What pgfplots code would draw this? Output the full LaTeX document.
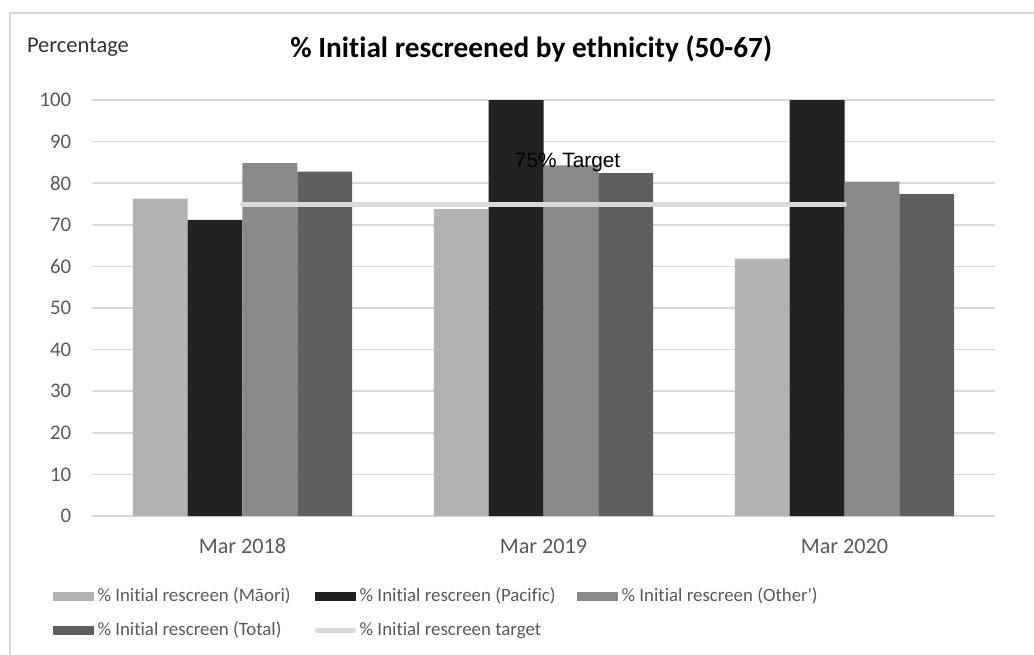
\documentclass[border=0pt]{standalone}
\usepackage{pgfplots}
\pgfplotsset{compat=1.18}
\usepackage{fontspec}
\setmainfont{Carlito}[Ligatures={NoCommon}]
\newfontfamily\arialfont{Liberation Sans}

\definecolor{maori}{HTML}{B2B2B2}
\definecolor{pacific}{HTML}{222222}
\definecolor{other}{HTML}{898989}
\definecolor{total}{HTML}{5F5F5F}
\definecolor{target}{HTML}{D9D9D9}
\definecolor{gridc}{HTML}{D9D9D9}
\definecolor{labelc}{HTML}{595959}

\begin{document}
\begin{tikzpicture}
    % page = 1034x654 px at 0.5pt per px
    \path[use as bounding box] (0,0) rectangle (517pt,-327pt);
    \draw[gridc, line width=0.75pt] (5pt,-340pt) -- (5pt,-6.5pt) -- (530pt,-6.5pt);

    \node[anchor=base west, inner sep=0pt, font=\fontsize{11.25}{13}\selectfont, text=black!80]
        at (13.3pt,-26.2pt) {Percentage};
    \node[anchor=base west, inner sep=0pt, font=\fontsize{14.65}{17}\selectfont\bfseries]
        at (145pt,-28.5pt) {\% Initial rescreened by ethnicity (50-67)};

    \begin{axis}[
        at={(46pt,-258pt)}, anchor=south west,
        scale only axis,
        width=451.5pt, height=208pt,
        ybar=0pt,
        bar width=27.4pt,
        xmin=-0.5, xmax=2.5,
        ymin=0, ymax=100,
        enlargelimits=false,
        xtick={0,1,2},
        xticklabels={Mar 2018, Mar 2019, Mar 2020},
        ytick={0,10,...,100},
        axis line style={draw=none},
        major tick length=0pt,
        tick style={draw=none},
        ymajorgrids,
        grid style={gridc, line width=0.75pt},
        xticklabel style={font=\fontsize{11.1}{13}\selectfont, text=labelc,
            anchor=base, inner sep=0pt, yshift=-18.7pt},
        yticklabel style={font=\fontsize{10.4}{12}\selectfont, text=labelc,
            anchor=east, inner sep=0pt, xshift=-10.2pt},
        /pgf/number format/assume math mode=true,
        clip=false,
        legend columns=3,
        legend cell align=left,
        legend style={
            at={(-0.04396,-0.171)}, anchor=north west,
            draw=none, fill=none, inner sep=0pt,
            row sep=8.0pt,
            font=\fontsize{9.45}{11}\selectfont, text=labelc,
            nodes={inner sep=0pt, text height=7pt, text depth=2pt},
            /tikz/every odd column/.append style={column sep=1.9pt},
        },
    ]
        \addplot[fill=maori, draw=none,
            legend image code/.code={\fill[maori] (0pt,-2.3pt) rectangle (20.5pt,2.3pt);}]
            coordinates {(0,76.3) (1,73.8) (2,61.9)};
        \addlegendentry{\makebox[108.6pt][l]{\% Initial rescreen (Māori)}}
        \addplot[fill=pacific, draw=none,
            legend image code/.code={\fill[pacific] (0pt,-2.3pt) rectangle (20.5pt,2.3pt);}]
            coordinates {(0,71.2) (1,100) (2,100)};
        \addlegendentry{\makebox[108.6pt][l]{\% Initial rescreen (Pacific)}}
        \addplot[fill=other, draw=none,
            legend image code/.code={\fill[other] (0pt,-2.3pt) rectangle (20.5pt,2.3pt);}]
            coordinates {(0,84.8) (1,84.3) (2,80.4)};
        \addlegendentry{\% Initial rescreen (Other\textquotesingle)}
        \addplot[fill=total, draw=none,
            legend image code/.code={\fill[total] (0pt,-2.3pt) rectangle (20.5pt,2.3pt);}]
            coordinates {(0,82.8) (1,82.4) (2,77.4)};
        \addlegendentry{\% Initial rescreen (Total)}
        \addplot[sharp plot, draw=target, line width=2.5pt, line cap=round, mark=none,
            legend image code/.code={\draw[target, line width=2.5pt, line cap=round] (1.2pt,0pt) -- (19.3pt,0pt);}]
            coordinates {(0,75) (2,75)};
        \addlegendentry{\% Initial rescreen target}

        \node[font=\arialfont\fontsize{10.4}{12}\selectfont, text=black, inner sep=0pt]
            at (axis cs:1.08,85.1) {75\% Target};
    \end{axis}
\end{tikzpicture}
\end{document}
